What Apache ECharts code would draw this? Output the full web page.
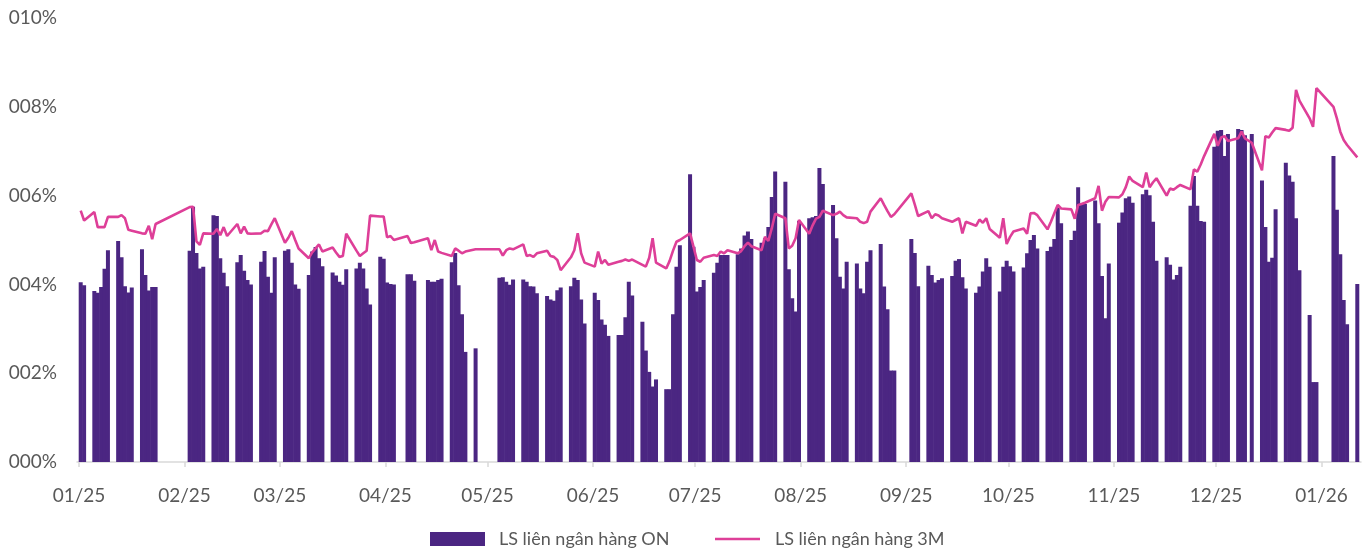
<!DOCTYPE html>
<html>
<head>
<meta charset="utf-8">
<script src="https://cdn.jsdelivr.net/npm/echarts@6/dist/echarts.min.js"></script>
<style>
html,body{margin:0;padding:0;background:#fff;}
#chart{width:1367px;height:552px;}
</style>
</head>
<body>
<div id="chart"></div>
<script>
// ---- Data (daily interbank rates, %) ----
const dates = [
 '2025-01-02','2025-01-03','2025-01-06','2025-01-07','2025-01-08','2025-01-09','2025-01-10','2025-01-13','2025-01-14','2025-01-15','2025-01-16','2025-01-17','2025-01-20','2025-01-21','2025-01-22','2025-01-23','2025-01-24',
 '2025-02-03','2025-02-04','2025-02-05','2025-02-06','2025-02-07','2025-02-10','2025-02-11','2025-02-12','2025-02-13','2025-02-14','2025-02-17','2025-02-18','2025-02-19','2025-02-20','2025-02-21','2025-02-24','2025-02-25','2025-02-26','2025-02-27','2025-02-28',
 '2025-03-03','2025-03-04','2025-03-05','2025-03-06','2025-03-07','2025-03-10','2025-03-11','2025-03-12','2025-03-13','2025-03-14','2025-03-17','2025-03-18','2025-03-19','2025-03-20','2025-03-21','2025-03-24','2025-03-25','2025-03-26','2025-03-27','2025-03-28','2025-03-31',
 '2025-04-01','2025-04-02','2025-04-03','2025-04-04','2025-04-08','2025-04-09','2025-04-10','2025-04-14','2025-04-15','2025-04-16','2025-04-17','2025-04-18','2025-04-21','2025-04-22','2025-04-23','2025-04-24','2025-04-25','2025-04-28',
 '2025-05-05','2025-05-06','2025-05-07','2025-05-08','2025-05-09','2025-05-12','2025-05-13','2025-05-14','2025-05-15','2025-05-16','2025-05-19','2025-05-20','2025-05-21','2025-05-22','2025-05-23','2025-05-26','2025-05-27','2025-05-28','2025-05-29','2025-05-30',
 '2025-06-02','2025-06-03','2025-06-04','2025-06-05','2025-06-06','2025-06-09','2025-06-10','2025-06-11','2025-06-12','2025-06-13','2025-06-16','2025-06-17','2025-06-18','2025-06-19','2025-06-20','2025-06-23','2025-06-24','2025-06-25','2025-06-26','2025-06-27','2025-06-30',
 '2025-07-01','2025-07-02','2025-07-03','2025-07-04','2025-07-07','2025-07-08','2025-07-09','2025-07-10','2025-07-11','2025-07-14','2025-07-15','2025-07-16','2025-07-17','2025-07-18','2025-07-21','2025-07-22','2025-07-23','2025-07-24','2025-07-25','2025-07-28','2025-07-29','2025-07-30','2025-07-31',
 '2025-08-01','2025-08-04','2025-08-05','2025-08-06','2025-08-07','2025-08-08','2025-08-11','2025-08-12','2025-08-13','2025-08-14','2025-08-15','2025-08-18','2025-08-19','2025-08-20','2025-08-21','2025-08-22','2025-08-25','2025-08-26','2025-08-27','2025-08-28','2025-08-29',
 '2025-09-03','2025-09-04','2025-09-05','2025-09-08','2025-09-09','2025-09-10','2025-09-11','2025-09-12','2025-09-15','2025-09-16','2025-09-17','2025-09-18','2025-09-19','2025-09-22','2025-09-23','2025-09-24','2025-09-25','2025-09-26','2025-09-29','2025-09-30',
 '2025-10-01','2025-10-02','2025-10-03','2025-10-06','2025-10-07','2025-10-08','2025-10-09','2025-10-10','2025-10-13','2025-10-14','2025-10-15','2025-10-16','2025-10-17','2025-10-20','2025-10-21','2025-10-22','2025-10-23','2025-10-24','2025-10-27','2025-10-28','2025-10-29','2025-10-30','2025-10-31',
 '2025-11-03','2025-11-04','2025-11-05','2025-11-06','2025-11-07','2025-11-10','2025-11-11','2025-11-12','2025-11-13','2025-11-14','2025-11-17','2025-11-18','2025-11-19','2025-11-20','2025-11-21','2025-11-24','2025-11-25','2025-11-26','2025-11-27','2025-11-28',
 '2025-12-01','2025-12-02','2025-12-03','2025-12-04','2025-12-05','2025-12-08','2025-12-09','2025-12-10','2025-12-12','2025-12-15','2025-12-16','2025-12-17','2025-12-18','2025-12-19','2025-12-22','2025-12-23','2025-12-24','2025-12-25','2025-12-26','2025-12-29','2025-12-30','2025-12-31',
 '2026-01-05','2026-01-06','2026-01-07','2026-01-08','2026-01-09','2026-01-12'
];

const rateON = [
 4.05,3.98,3.85,3.81,3.94,4.35,4.77,4.98,4.61,3.96,3.82,3.93,4.79,4.21,3.86,3.94,3.94,
 4.76,5.75,4.71,4.36,4.40,5.56,5.54,4.59,4.26,3.96,4.50,4.66,4.31,4.10,4.00,4.51,4.75,4.17,3.81,4.61,
 4.76,4.79,4.49,4.00,3.90,4.21,4.74,4.84,4.59,4.41,4.27,4.20,4.06,3.99,4.34,4.36,4.49,4.36,3.91,3.55,4.62,
 4.58,4.04,4.01,4.00,4.23,4.23,4.08,4.10,4.06,4.06,4.10,4.13,4.50,4.71,3.98,3.33,2.48,2.56,
 4.15,4.16,4.06,3.99,4.11,4.11,4.06,3.96,3.95,3.80,3.74,3.66,3.63,3.87,3.93,3.96,4.15,4.10,3.66,3.12,
 3.81,3.65,3.21,3.09,2.84,2.86,2.86,3.26,4.06,3.75,3.16,2.51,2.03,1.70,1.86,1.64,1.64,3.33,4.40,4.88,6.48,
 4.85,3.84,3.94,4.10,4.26,4.49,4.66,4.66,4.66,4.68,4.81,5.10,5.19,5.02,4.94,5.04,5.29,5.97,6.54,6.31,4.34,3.69,3.39,
 5.43,5.49,5.51,5.54,6.62,6.26,5.79,5.04,4.17,3.91,4.51,4.47,3.91,3.80,4.51,4.77,4.91,3.95,3.44,2.06,2.06,
 5.02,4.71,3.96,4.42,4.21,4.04,4.10,4.14,4.19,4.53,4.57,4.16,3.91,3.81,3.95,4.29,4.59,4.40,3.84,4.40,
 4.53,4.41,4.29,4.38,4.70,5.00,5.11,4.81,4.75,4.85,5.02,5.73,5.38,5.00,5.21,6.19,5.81,5.81,5.89,5.38,4.19,3.24,4.47,
 5.39,5.62,5.94,5.98,5.84,6.03,6.13,6.01,5.41,4.53,4.61,4.44,4.11,4.21,4.40,5.77,6.44,5.77,5.43,5.41,
 7.10,7.46,7.48,6.89,7.39,7.50,7.48,7.36,7.39,6.34,5.29,4.51,4.60,5.69,6.74,6.45,6.31,5.49,4.32,3.31,1.80,1.80,
 6.89,5.68,4.68,3.65,3.10,4.01
];

const rate3M = [
 5.66,5.44,5.63,5.29,5.29,5.29,5.52,5.52,5.56,5.49,5.23,5.21,5.15,5.14,5.32,5.02,5.36,
 5.74,5.75,4.97,4.89,5.15,5.14,5.25,5.11,5.29,5.09,5.36,5.15,5.30,5.15,5.14,5.15,5.21,5.20,5.35,5.49,
 4.94,5.05,5.20,5.00,4.81,4.59,4.72,4.81,4.90,4.74,4.83,4.72,4.62,4.64,5.14,4.76,4.64,4.70,4.76,5.55,5.53,
 5.53,5.06,5.09,5.00,5.09,4.93,4.95,5.04,4.77,5.00,4.74,4.71,4.64,4.81,4.76,4.70,4.74,4.79,
 4.79,4.65,4.77,4.81,4.79,4.90,4.64,4.66,4.62,4.70,4.76,4.64,4.62,4.55,4.32,4.61,4.77,5.15,4.70,4.49,
 4.40,4.74,4.47,4.55,4.44,4.51,4.53,4.56,4.53,4.56,4.44,4.40,4.60,5.04,4.49,4.36,4.53,4.76,4.96,5.00,5.15,
 4.85,4.55,4.51,4.60,4.66,4.64,4.74,4.70,4.77,4.70,4.75,4.86,4.94,4.86,4.77,5.07,4.98,5.26,5.59,5.49,4.81,4.87,5.04,
 5.45,5.14,5.33,5.48,5.52,5.66,5.56,5.59,5.64,5.56,5.51,5.49,5.41,5.38,5.41,5.64,5.94,5.79,5.65,5.52,5.58,
 6.05,5.80,5.54,5.65,5.49,5.58,5.55,5.49,5.41,5.45,5.49,5.15,5.41,5.32,5.46,5.39,5.49,5.25,5.05,5.49,
 4.91,5.07,5.19,5.26,5.14,5.60,5.61,5.56,5.24,5.41,5.60,5.79,5.71,5.69,5.48,5.79,5.81,5.84,5.94,6.22,5.66,5.86,5.97,
 5.96,6.03,6.19,6.43,6.33,6.19,6.52,6.19,6.30,6.39,6.00,6.16,6.13,6.19,6.24,6.14,6.59,6.54,6.70,6.89,
 7.39,7.12,7.31,7.34,7.23,7.29,7.44,7.29,7.19,6.57,7.34,7.31,7.42,7.52,7.48,7.46,7.53,8.38,8.14,7.74,7.55,8.42,
 8.00,7.74,7.44,7.25,7.14,6.86
];

const monthLabels = ['01/25','02/25','03/25','04/25','05/25','06/25','07/25','08/25','09/25','10/25','11/25','12/25','01/26'];
const yTickLabels = ['000%','002%','004%','006%','008%','010%'];
const seriesNames = ['LS liên ngân hàng ON','LS liên ngân hàng 3M'];

// ---- Build ----
const HALF_DAY = 12 * 3600 * 1000;
function ts(s) {
  const p = s.split('-').map(Number);
  // each daily bar occupies the slot ending at its date, as in the source chart
  return new Date(p[0], p[1] - 1, p[2]).getTime() - HALF_DAY;
}
const barData = dates.map((d, i) => [ts(d), rateON[i]]).filter(p => p[1] != null);
const lineData = dates.map((d, i) => [ts(d), rate3M[i]]).filter(p => p[1] != null);

const textColor = '#595959';
const fontFamily = 'Lato, "Liberation Sans", sans-serif';
const barColor = '#4b2682';
const lineColor = '#de3f98';

const chart = echarts.init(document.getElementById('chart'), null, {renderer: 'canvas'});
chart.setOption({
  animation: false,
  backgroundColor: '#ffffff',
  textStyle: {fontFamily: fontFamily},
  grid: {left: 77, right: 6, top: 18, bottom: 90, containLabel: false},
  xAxis: {
    type: 'time',
    min: new Date(2025, 0, 1).getTime(),
    max: new Date(2026, 0, 12).getTime(),
    splitNumber: 13,
    minInterval: 28 * 24 * 3600 * 1000,
    maxInterval: 31 * 24 * 3600 * 1000,
    axisLine: {show: true, lineStyle: {color: '#d9d9d9', width: 1.5}},
    axisTick: {show: true, length: 5, lineStyle: {color: '#d9d9d9', width: 1.5}},
    splitLine: {show: false},
    axisLabel: {
      color: textColor, fontSize: 19, fontFamily: fontFamily, margin: 24,
      formatter: function (val) {
        const d = new Date(val);
        if (d.getDate() !== 1) return '';
        const idx = (d.getFullYear() - 2025) * 12 + d.getMonth();
        return monthLabels[idx] || '';
      }
    }
  },
  yAxis: {
    type: 'value', min: 0, max: 10, interval: 2,
    axisLine: {show: false}, axisTick: {show: false}, splitLine: {show: false},
    axisLabel: {
      color: textColor, fontSize: 19, fontFamily: fontFamily, margin: 20,
      formatter: function (v) { return yTickLabels[Math.round(v / 2)]; }
    }
  },
  legend: [
    {
      data: [{name: seriesNames[0], icon: 'rect'}], left: 430, top: 530, padding: 0,
      itemWidth: 55, itemHeight: 14,
      textStyle: {color: textColor, fontSize: 18, fontFamily: fontFamily, padding: [0, 0, 0, 9]}
    },
    {
      data: [{name: seriesNames[1], icon: 'rect', itemStyle: {color: lineColor}}], left: 715, top: 530, padding: 0,
      itemWidth: 45, itemHeight: 2.5,
      textStyle: {color: textColor, fontSize: 18, fontFamily: fontFamily, padding: [0, 0, 0, 10]}
    }
  ],
  series: [
    {
      name: seriesNames[0], type: 'bar', data: barData, barWidth: 4,
      itemStyle: {color: barColor}, z: 2
    },
    {
      name: seriesNames[1], type: 'line', data: lineData, symbol: 'none', showSymbol: false,
      connectNulls: true,
      lineStyle: {color: lineColor, width: 2.6}, itemStyle: {color: lineColor}, z: 3
    }
  ]
});
</script>
</body>
</html>
